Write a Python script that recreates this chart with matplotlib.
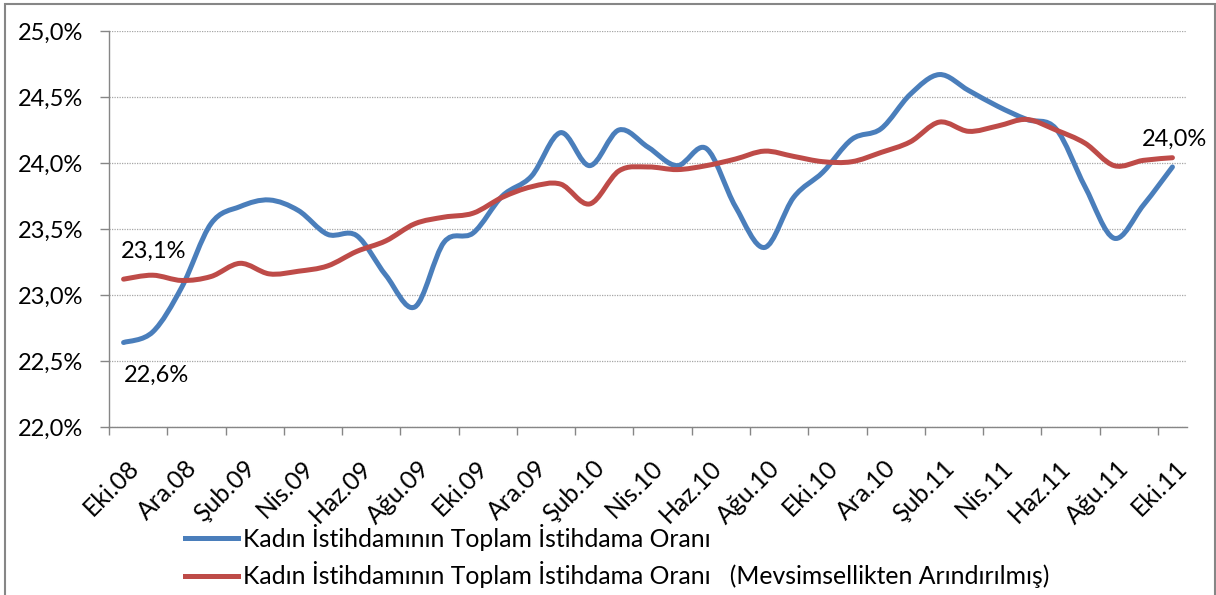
"""Kadın istihdamının toplam istihdama oranı, Eki.08 - Eki.11 (smoothed lines)."""
import matplotlib

matplotlib.use("Agg")
import matplotlib.pyplot as plt  # noqa: E402
from matplotlib.lines import Line2D  # noqa: E402
from matplotlib.patches import PathPatch, Rectangle  # noqa: E402
from matplotlib.path import Path  # noqa: E402
from matplotlib.ticker import FixedLocator, FuncFormatter  # noqa: E402
from matplotlib.transforms import ScaledTranslation  # noqa: E402

plt.rcParams["font.family"] = ["Lato", "DejaVu Sans"]

# monthly, Eki.08 .. Eki.11 (37 months)
months = [
    "Eki.08", "Kas.08", "Ara.08", "Oca.09", "Şub.09", "Mar.09", "Nis.09", "May.09",
    "Haz.09", "Tem.09", "Ağu.09", "Eyl.09", "Eki.09", "Kas.09", "Ara.09", "Oca.10",
    "Şub.10", "Mar.10", "Nis.10", "May.10", "Haz.10", "Tem.10", "Ağu.10", "Eyl.10",
    "Eki.10", "Kas.10", "Ara.10", "Oca.11", "Şub.11", "Mar.11", "Nis.11", "May.11",
    "Haz.11", "Tem.11", "Ağu.11", "Eyl.11", "Eki.11",
]
raw_share = [
    22.64, 22.72, 23.06, 23.54, 23.67, 23.72, 23.64, 23.46,
    23.45, 23.15, 22.91, 23.40, 23.47, 23.75, 23.90, 24.23,
    23.98, 24.25, 24.12, 23.98, 24.11, 23.67, 23.36, 23.74,
    23.93, 24.18, 24.26, 24.52, 24.67, 24.55, 24.43, 24.33,
    24.26, 23.82, 23.43, 23.68, 23.97,
]
sa_share = [
    23.12, 23.15, 23.11, 23.14, 23.24, 23.16, 23.18, 23.22,
    23.33, 23.41, 23.54, 23.59, 23.62, 23.74, 23.82, 23.84,
    23.69, 23.94, 23.97, 23.95, 23.98, 24.03, 24.09, 24.05,
    24.01, 24.01, 24.08, 24.16, 24.31, 24.24, 24.28, 24.33,
    24.25, 24.15, 23.98, 24.02, 24.04,
]
series_labels = [
    "Kadın İstihdamının Toplam İstihdama Oranı",
    "Kadın İstihdamının Toplam İstihdama Oranı   (Mevsimsellikten Arındırılmış)",
]
y_ticks = [22.0, 22.5, 23.0, 23.5, 24.0, 24.5, 25.0]

BLUE = "#4A7EBB"
RED = "#BE4B48"
GREY = "#868686"
FS = 17
FS_TEXT = 17.8


def _pct(v: float) -> str:
    return f"{v:.1f}".replace(".", ",") + "%"


def _smooth_path(xs: list[float], ys: list[float]) -> Path:
    # Excel-style smoothed line: cubic Bezier through every point
    n = len(xs)
    verts = [(xs[0], ys[0])]
    codes = [Path.MOVETO]
    for i in range(n - 1):
        p0 = max(i - 1, 0)
        p3 = min(i + 2, n - 1)
        c1 = (xs[i] + (xs[i + 1] - xs[p0]) / 6, ys[i] + (ys[i + 1] - ys[p0]) / 6)
        c2 = (xs[i + 1] - (xs[p3] - xs[i]) / 6, ys[i + 1] - (ys[p3] - ys[i]) / 6)
        verts += [c1, c2, (xs[i + 1], ys[i + 1])]
        codes += [Path.CURVE4] * 3
    return Path(verts, codes)


fig = plt.figure(figsize=(12.16, 5.95), dpi=100)
ax = fig.add_axes([109 / 1216, 1 - 427 / 595, (1187 - 109) / 1216, (427 - 31) / 595])

x = list(range(len(months)))
for vals, color in ((raw_share, BLUE), (sa_share, RED)):
    ax.add_patch(PathPatch(_smooth_path(x, vals), fill=False, edgecolor=color,
                           lw=3.6, capstyle="round", joinstyle="round", zorder=3))

ax.set_xlim(-0.5, len(months) - 0.5)
ax.set_ylim(y_ticks[0], y_ticks[-1])
ax.set_yticks(y_ticks)
ax.yaxis.set_major_formatter(FuncFormatter(lambda v, _: _pct(v)))
ax.grid(axis="y", color="#A6A6A6", lw=0.9, ls=(0, (1, 1)))
ax.set_axisbelow(True)

# labels every second month, tick marks between categories
label_pos = x[::2]
ax.xaxis.set_major_locator(FixedLocator(label_pos))
ax.set_xticklabels([months[i] for i in label_pos], rotation=45, ha="right", va="top",
                   rotation_mode="anchor")
ax.xaxis.set_minor_locator(FixedLocator([p - 0.5 for p in label_pos]))
ax.tick_params(axis="x", which="major", length=0, pad=21, labelsize=FS_TEXT)
ax.tick_params(axis="x", which="minor", length=6, width=1, color=GREY, direction="out")
ax.tick_params(axis="y", length=6.5, width=1, color=GREY, pad=12, labelsize=FS)
for lab in ax.get_xticklabels():
    lab.set_transform(lab.get_transform() + ScaledTranslation(3 / 100, 0, fig.dpi_scale_trans))

for side in ("top", "right"):
    ax.spines[side].set_visible(False)
for side in ("left", "bottom"):
    ax.spines[side].set_color(GREY)
    ax.spines[side].set_linewidth(1)

# data labels at both ends
ax.annotate(_pct(sa_share[0]), (x[0], sa_share[0]), xytext=(-3, 28), textcoords="offset pixels",
            ha="left", va="center", fontsize=FS)
ax.annotate(_pct(raw_share[0]), (x[0], raw_share[0]), xytext=(0, -33), textcoords="offset pixels",
            ha="left", va="center", fontsize=FS)
ax.annotate(_pct(sa_share[-1]), (x[-1], sa_share[-1]), xytext=(2, 18), textcoords="offset pixels",
            ha="center", va="center", fontsize=FS)

handles = [Line2D([], [], color=BLUE, lw=3.6), Line2D([], [], color=RED, lw=3.6)]
fig.legend(handles, series_labels, loc="upper left", bbox_to_anchor=(185 / 1216, 1 - 524 / 595),
           frameon=False, fontsize=FS_TEXT, handlelength=2.15, handletextpad=0.2,
           labelspacing=0.42, borderpad=0, borderaxespad=0)

fig.add_artist(Rectangle((5 / 1216, -0.02), 1210 / 1216, 1.02 - 4 / 595, transform=fig.transFigure,
                         fill=False, edgecolor=GREY, lw=1.5))

fig.savefig("out.png", dpi=100)
